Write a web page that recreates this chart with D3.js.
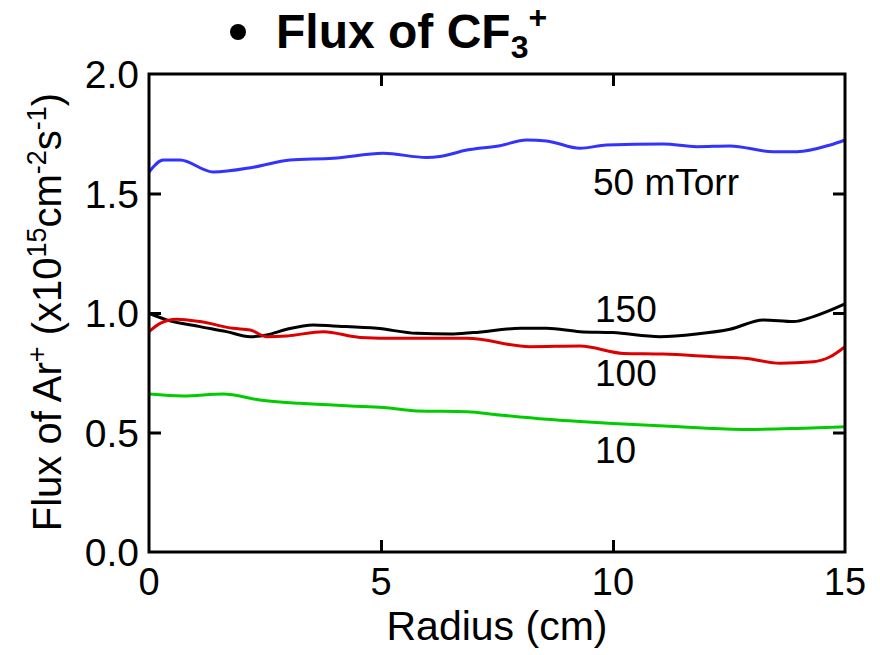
<!DOCTYPE html>
<html>
<head>
<meta charset="utf-8">
<script src="https://cdn.jsdelivr.net/npm/d3@7"></script>
<style>
  body { margin: 0; background: #fff; }
  text { font-family: "Liberation Sans", Arial, sans-serif; fill: #000; }
</style>
</head>
<body>
<div id="chart-area"></div>
<script>
/** Data **/
const xTicks = [0, 5, 10, 15];
const yTicks = [0.0, 0.5, 1.0, 1.5, 2.0];

const radius50  = [0, 0.31, 0.67, 1.38, 2.25, 3.04, 3.97, 5.05, 5.98, 6.27, 6.85, 7.56, 8.14, 8.57, 9.29, 9.86, 11.08, 11.8, 12.52, 13.45, 13.96, 14.68, 15];
const flux50    = [1.59, 1.64, 1.64, 1.59, 1.61, 1.64, 1.647, 1.668, 1.651, 1.655, 1.682, 1.70, 1.724, 1.72, 1.689, 1.703, 1.707, 1.696, 1.699, 1.675, 1.675, 1.703, 1.724];

const radius150 = [0, 0.38, 1.1, 1.67, 2.18, 2.54, 2.97, 3.54, 3.97, 4.91, 5.77, 6.49, 6.99, 8.0, 8.57, 9.29, 10.0, 11.01, 11.8, 12.52, 13.24, 13.89, 14.32, 15];
const flux150   = [0.999, 0.971, 0.943, 0.922, 0.901, 0.908, 0.932, 0.95, 0.946, 0.936, 0.915, 0.912, 0.918, 0.936, 0.936, 0.922, 0.918, 0.901, 0.912, 0.932, 0.971, 0.964, 0.985, 1.038];

const radius100 = [0, 0.24, 0.6, 1.1, 1.81, 2.18, 2.54, 2.97, 3.76, 4.55, 5.41, 6.13, 6.85, 8.21, 9.29, 10.22, 11.08, 12.16, 12.88, 13.6, 14.32, 14.68, 15];
const flux100   = [0.922, 0.957, 0.974, 0.964, 0.936, 0.929, 0.901, 0.904, 0.922, 0.898, 0.894, 0.894, 0.894, 0.859, 0.862, 0.831, 0.828, 0.817, 0.81, 0.79, 0.796, 0.817, 0.859];

const radius10  = [0, 0.74, 1.6, 2.39, 3.25, 4.33, 5.05, 5.77, 6.85, 7.56, 8.57, 10.0, 11.44, 12.88, 13.96, 15];
const flux10    = [0.661, 0.653, 0.661, 0.636, 0.622, 0.611, 0.605, 0.59, 0.587, 0.573, 0.555, 0.538, 0.524, 0.513, 0.517, 0.524];

const seriesNames  = ['50 mTorr', '150', '100', '10'];
const seriesColors = ['#3333ff', '#000000', '#dd0000', '#00cc00'];


/** SVG **/
const margin = { left:149, right:35, top:74, bottom:103 };
const width  = 880 - margin.left - margin.right;
const height = 655 - margin.top  - margin.bottom;

const svg = d3.select('#chart-area')
    .append('svg')
    .attr('width', 880)
    .attr('height', 655);

const g = svg.append('g')
    .attr('transform', `translate(${margin.left}, ${margin.top})`);


/** Scales **/
const xScale = d3.scaleLinear().domain([0, 15]).range([0, width]);
const yScale = d3.scaleLinear().domain([0, 2]).range([height, 0]);


/** Lines **/
const series = [
    { name: seriesNames[0], color: seriesColors[0], r: radius50,  v: flux50  },
    { name: seriesNames[1], color: seriesColors[1], r: radius150, v: flux150 },
    { name: seriesNames[2], color: seriesColors[2], r: radius100, v: flux100 },
    { name: seriesNames[3], color: seriesColors[3], r: radius10,  v: flux10  }
];

const line = d3.line()
    .x(d => xScale(d[0]))
    .y(d => yScale(d[1]))
    .curve(d3.curveMonotoneX);

g.selectAll('.series')
    .data(series)
    .enter().append('path')
        .attr('class', 'series')
        .attr('fill', 'none')
        .attr('stroke', d => d.color)
        .attr('stroke-width', 3)
        .attr('d', d => line(d.r.map((r, i) => [r, d.v[i]])));


/** Axis (ticks inside, on all four sides) **/
const tickLen = 12;
const innerX = xTicks.slice(1, -1);
const innerY = yTicks.slice(1, -1);

const styleAxis = sel => {
    sel.select('.domain').remove();
    sel.selectAll('line').attr('stroke', '#000').attr('stroke-width', 3);
};

g.append('g')
    .attr('transform', `translate(0,${height})`)
    .call(d3.axisBottom(xScale).tickValues(innerX).tickSizeInner(-tickLen).tickSizeOuter(0).tickFormat(''))
    .call(styleAxis);

g.append('g')
    .call(d3.axisTop(xScale).tickValues(innerX).tickSizeInner(-tickLen).tickSizeOuter(0).tickFormat(''))
    .call(styleAxis);

g.append('g')
    .call(d3.axisLeft(yScale).tickValues(innerY).tickSizeInner(-tickLen).tickSizeOuter(0).tickFormat(''))
    .call(styleAxis);

g.append('g')
    .attr('transform', `translate(${width},0)`)
    .call(d3.axisRight(yScale).tickValues(innerY).tickSizeInner(-tickLen).tickSizeOuter(0).tickFormat(''))
    .call(styleAxis);

// frame
g.append('rect')
    .attr('width', width).attr('height', height)
    .attr('fill', 'none').attr('stroke', '#000').attr('stroke-width', 3);


/** Tick labels **/
g.selectAll('.x-label')
    .data(xTicks)
    .enter().append('text')
        .attr('x', d => xScale(d))
        .attr('y', height + 43)
        .attr('text-anchor', 'middle')
        .attr('font-size', '38px')
        .text(d => d);

g.selectAll('.y-label')
    .data(yTicks)
    .enter().append('text')
        .attr('x', -10)
        .attr('y', d => yScale(d) + 14)
        .attr('text-anchor', 'end')
        .attr('font-size', '39px')
        .text(d => d3.format('.1f')(d));


/** Series labels **/
const labelPos = [[593, 195], [595, 322], [595, 386], [595, 463]];
svg.selectAll('.s-label')
    .data(series)
    .enter().append('text')
        .attr('x', (d, i) => labelPos[i][0])
        .attr('y', (d, i) => labelPos[i][1])
        .attr('font-size', '37px')
        .text(d => d.name);


/** Axis titles **/
svg.append('text')
    .attr('x', 497).attr('y', 640)
    .attr('text-anchor', 'middle')
    .attr('font-size', '41px')
    .text('Radius (cm)');

const yTitle = svg.append('text')
    .attr('transform', 'translate(61, 312) rotate(-90)')
    .attr('text-anchor', 'middle')
    .attr('font-size', '40px');
yTitle.append('tspan').text('Flux of Ar');
yTitle.append('tspan').attr('dy', -15).attr('font-size', '27px').text('+');
yTitle.append('tspan').attr('dy', 15).text(' (x10');
yTitle.append('tspan').attr('dy', -15).attr('font-size', '27px').text('15');
yTitle.append('tspan').attr('dy', 15).text('cm');
yTitle.append('tspan').attr('dy', -15).attr('font-size', '27px').text('-2');
yTitle.append('tspan').attr('dy', 15).text('s');
yTitle.append('tspan').attr('dy', -15).attr('font-size', '27px').text('-1');
yTitle.append('tspan').attr('dy', 15).text(')');


/** Title **/
svg.append('circle')
    .attr('cx', 238).attr('cy', 32).attr('r', 8).attr('fill', '#000');

const title = svg.append('text')
    .attr('x', 276).attr('y', 48)
    .attr('font-size', '48px')
    .attr('font-weight', 'bold');
title.append('tspan').text('Flux of CF');
title.append('tspan').attr('dy', 10).attr('font-size', '32px').text('3');
title.append('tspan').attr('dy', -30).attr('font-size', '32px').text('+');
</script>
</body>
</html>
